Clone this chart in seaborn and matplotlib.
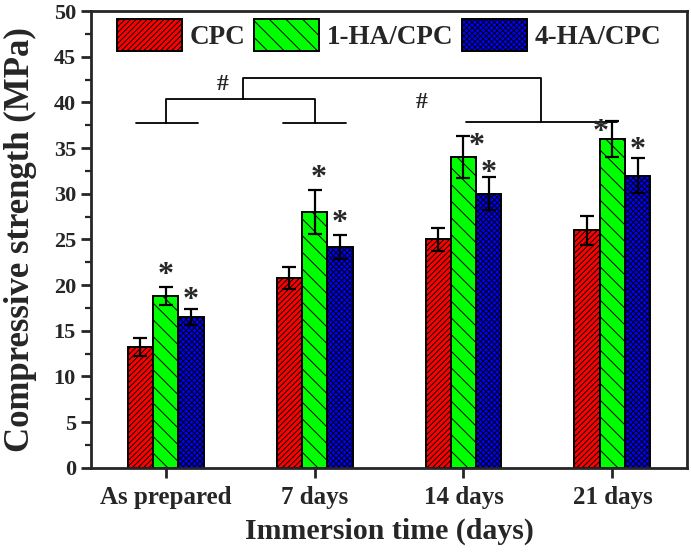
import numpy as np
import pandas as pd
import matplotlib
matplotlib.use("Agg")
import matplotlib.pyplot as plt
from matplotlib.ticker import MultipleLocator
import seaborn as sns

# Data
times = ["As prepared", "7 days", "14 days", "21 days"]
groups = ["CPC", "1-HA/CPC", "4-HA/CPC"]
cpc = [13.2, 20.8, 25.0, 26.0]
cpc_err = [1.0, 1.2, 1.3, 1.6]
ha1 = [18.8, 28.0, 34.0, 36.0]
ha1_err = [1.0, 2.4, 2.3, 2.0]
ha4 = [16.5, 24.2, 30.0, 32.0]
ha4_err = [0.9, 1.3, 1.8, 1.9]

colors = ["#ff0000", "#00ff00", "#0000ff"]
hatches = ["//////", "\\\\", "xxxxxx"]

sns.set_style("ticks")
plt.rcParams["font.family"] = ["Liberation Serif", "DejaVu Serif"]
plt.rcParams["font.weight"] = "bold"
plt.rcParams["hatch.linewidth"] = 0.7
plt.rcParams["hatch.color"] = "black"

df = pd.DataFrame({
    "time": times * 3,
    "group": [g for g in groups for _ in times],
    "value": cpc + ha1 + ha4,
})
errs = [cpc_err, ha1_err, ha4_err]

fig = plt.figure(figsize=(6.91, 5.53), dpi=100)
ax = fig.add_axes([0.132, 0.154, 0.862, 0.826])

sns.barplot(data=df, x="time", y="value", hue="group", order=times,
            hue_order=groups, palette=colors, saturation=1, width=0.51,
            gap=0, edgecolor="black", linewidth=1.4, errorbar=None, ax=ax)
bar_conts = list(ax.containers)

# hatching and error bars from the drawn bars
for k, cont in enumerate(bar_conts):
    xs, ys = [], []
    for bar in cont.patches:
        bar.set_hatch(hatches[k])
        xs.append(bar.get_x() + bar.get_width() / 2)
        ys.append(bar.get_height())
    ax.errorbar(xs, ys, yerr=errs[k], fmt="none", ecolor="black",
                elinewidth=1.6, capsize=5, capthick=1.6, zorder=5)

# significance asterisks
stars_x = [0.0, 0.17, 1.03, 1.17, 2.09, 2.17, 2.92, 3.17]
stars_y = [21.0, 18.3, 31.7, 26.8, 35.2, 32.2, 36.7, 34.7]
for sx, sy in zip(stars_x, stars_y):
    ax.text(sx, sy, "*", ha="center", va="center", fontsize=23,
            fontweight="bold")

# brackets
lk = dict(color="black", lw=1.3)
ax.plot([-0.2, 0.22], [37.7, 37.7], **lk)
ax.plot([0.79, 1.21], [37.7, 37.7], **lk)
ax.plot([0.0, 0.0, 1.0, 1.0], [37.7, 40.4, 40.4, 37.7], **lk)
ax.plot([0.52, 0.52, 2.52, 2.52], [40.4, 42.7, 42.7, 37.85], **lk)
ax.plot([2.02, 3.03], [37.85, 37.85], **lk)
ax.text(0.38, 42.0, "#", ha="center", va="center", fontsize=17,
        fontweight="bold")
ax.text(1.72, 40.0, "#", ha="center", va="center", fontsize=17,
        fontweight="bold")

ax.set_xlim(-0.5, 3.5)
ax.set_ylim(0, 50)
ax.yaxis.set_major_locator(MultipleLocator(5))
ax.yaxis.set_minor_locator(MultipleLocator(2.5))
ax.tick_params(axis="y", which="major", length=7, width=2, labelsize=16,
               pad=4)
ax.tick_params(axis="y", which="minor", length=4, width=1.6)
ax.tick_params(axis="x", length=7, width=2, labelsize=18, pad=6)
for s in ax.spines.values():
    s.set_linewidth(2)
    s.set_visible(True)

ax.set_xlabel("Immersion time (days)", fontsize=21.5, fontweight="bold",
              labelpad=6)
ax.set_ylabel("Compressive strength (MPa)", fontsize=25, fontweight="bold",
              labelpad=12)

ax.legend(bar_conts, groups, loc="upper center",
          bbox_to_anchor=(0.5, 1.0), ncol=3, frameon=False, fontsize=19.5,
          handlelength=2.4, handleheight=1.45, handletextpad=0.3,
          columnspacing=0.3, borderaxespad=0.0, borderpad=0.3)

fig.savefig("out.png", dpi=100)
